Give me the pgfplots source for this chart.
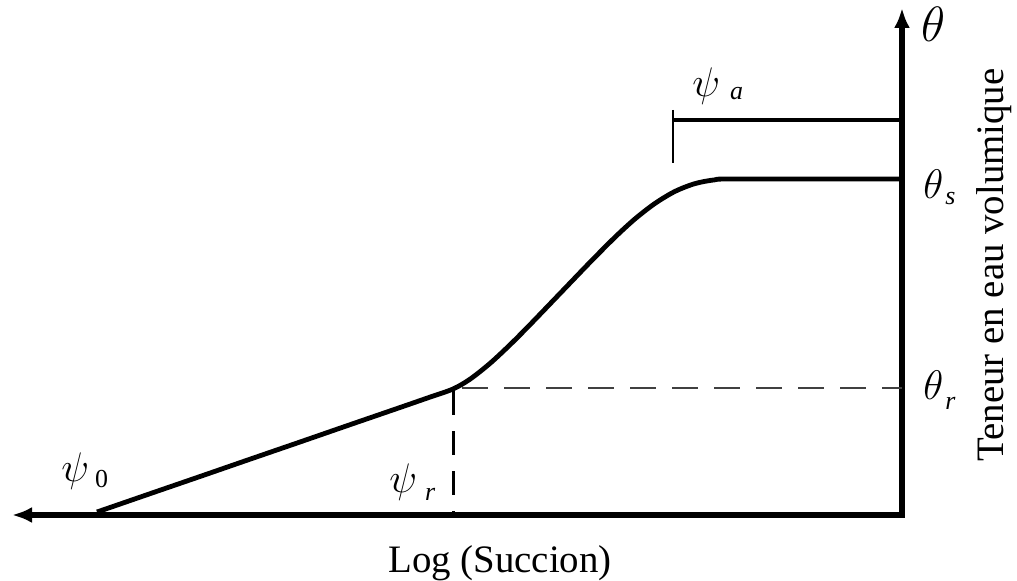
\documentclass[border=0pt]{standalone}
\usepackage{fontspec}
\setmainfont{Liberation Serif}
\usepackage{pgfplots}
\pgfplotsset{compat=1.18}
\usetikzlibrary{arrows.meta}

% drawing units: 1 unit = 1 px of the 1017x581 sketch, y measured downwards
\newcommand{\lbl}[1]{\fontsize{#1}{#1}\selectfont}

\begin{document}
\begin{tikzpicture}
  \begin{axis}[
      width=508.5bp, height=290.5bp,
      scale only axis,
      xmin=0, xmax=1017,
      ymin=0, ymax=581,
      y dir=reverse,
      hide axis,
      clip=false,
  ]

  % --- axes (Log succion to the left, theta upwards) ---
  \addplot[line width=2.6bp, line join=miter,
           {Latex[length=10bp,width=8bp]}-{Latex[length=10bp,width=8bp]}]
    coordinates {(12,515) (902,515) (902,8)};

  % --- retention curve ---
  \addplot[line width=2.4bp, smooth, tension=0.5] coordinates {
  (97,512) (150,493.7) (200,476.5) (250,459.2) (300,442) (350,424.7)
  (400,407.5) (430,397.1) (453,389) (470,379.2) (490,363.4) (510,344.8)
  (530,324.7) (560,293.5) (590,262.3) (615,237.2) (635,218.9) (655,203.4)
  (675,191.4) (695,183.6) (715,179.8) (735,179) (902,179)
  };

  % --- residual point ---
  \addplot[line width=1bp, black!75, dash pattern=on 13bp off 8bp]
    coordinates {(462,388) (902,388)};
  \addplot[line width=1.5bp, dash pattern=on 12bp off 8bp]
    coordinates {(453,391) (453,515)};

  % --- air entry bracket ---
  \addplot[line width=1.6bp] coordinates {(673,120) (902,120)};
  \addplot[line width=0.9bp] coordinates {(673,110) (673,163)};

  % --- labels ---
  \node[anchor=base west, inner sep=0pt] at (61,481)
    {\lbl{21}$\psi$\hspace{3bp}\raisebox{-3bp}{\lbl{13}0}};
  \node[anchor=base west, inner sep=0pt] at (389,492)
    {\lbl{21}$\psi$\hspace{4bp}\raisebox{-4bp}{\lbl{13}\itshape r}};
  \node[anchor=base west, inner sep=0pt] at (692,97)
    {\lbl{21}$\psi$\hspace{5bp}\raisebox{-1.5bp}{\lbl{13}\itshape a}};
  \node[anchor=base west, inner sep=0pt] at (921,42)
    {\lbl{24}$\theta$};
  \node[anchor=base west, inner sep=0pt] at (923,198)
    {\lbl{21}$\theta$\hspace{1bp}\raisebox{-3bp}{\lbl{13}\itshape s}};
  \node[anchor=base west, inner sep=0pt] at (923,399)
    {\lbl{21}$\theta$\hspace{1bp}\raisebox{-5bp}{\lbl{13}\itshape r}};
  \node[anchor=base, inner sep=0pt] at (500,572)
    {\lbl{19.5}Log (Succion)};
  \node[anchor=base, rotate=90, inner sep=0pt] at (1003,265)
    {\lbl{19.5}Teneur en eau volumique};

  \end{axis}
  \pgfresetboundingbox
  \path[use as bounding box] (current axis.south west) rectangle (current axis.north east);
\end{tikzpicture}
\end{document}
